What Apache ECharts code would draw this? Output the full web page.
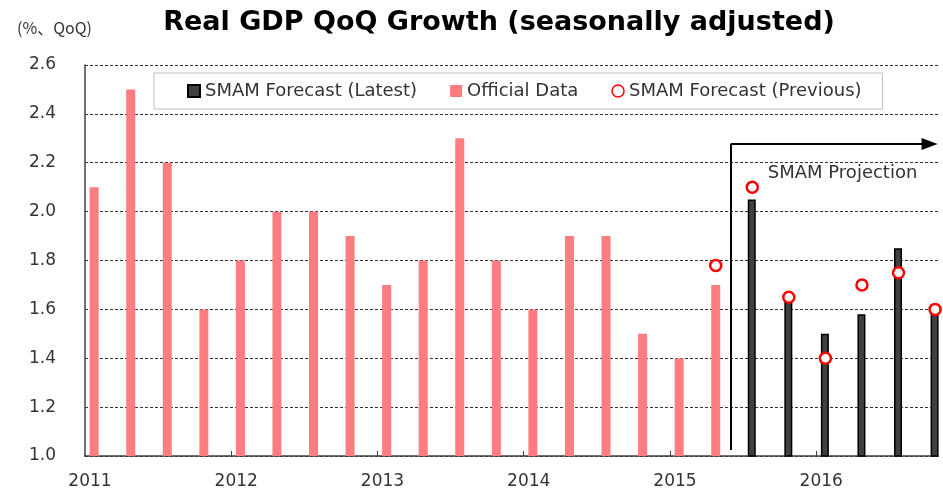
<!DOCTYPE html>
<html>
<head>
<meta charset="utf-8">
<script src="https://cdn.jsdelivr.net/npm/echarts@6/dist/echarts.min.js"></script>
<style>
  html, body { margin: 0; padding: 0; background: #fff; }
  #main { width: 943px; height: 496px; }
</style>
</head>
<body>
<div id="main"></div>
<script>
    // quarterly data, 2011Q1 .. 2016Q4
    var years = ['2011', '2012', '2013', '2014', '2015', '2016'];
    // official data 2011Q1 - 2015Q2
    var official = [2.1, 2.5, 2.2, 1.6, 1.8, 2.0, 2.0, 1.9, 1.7, 1.8, 2.3, 1.8, 1.6, 1.9, 1.9, 1.5, 1.4, 1.7];
    // SMAM forecast (latest) 2015Q3 - 2016Q4
    var latest = [2.05, 1.63, 1.5, 1.58, 1.85, 1.6];
    // SMAM forecast (previous) 2015Q2 - 2016Q4
    var previous = [1.78, 2.1, 1.65, 1.4, 1.7, 1.75, 1.6];

    var latestStart = 18;
    var previousStart = 17;
    var offset = 0.25; // bars sit a quarter of a slot after the tick

    function toPoints(values, start) {
        var pts = [];
        for (var i = 0; i < values.length; i++) {
            pts.push([start + i + offset, values[i]]);
        }
        return pts;
    }

    var chart = echarts.init(document.getElementById('main'));
    var font = 'DejaVu Sans';

    var option = {
        animation: false,
        title: [{
            text: 'Real GDP QoQ Growth (seasonally adjusted)',
            left: 494,
            textAlign: 'center',
            top: 4,
            textStyle: { fontFamily: font, fontWeight: 'bold', fontSize: 27, color: '#000' }
        }, {
            text: '(%、QoQ)',
            left: 12,
            top: 15,
            textStyle: { fontFamily: 'Noto Sans CJK JP', fontWeight: 'normal', fontSize: 16, color: '#333' }
        }],
        legend: {
            left: 154,
            top: 73,
            padding: [9, 21, 9, 33],
            borderColor: '#bfbfbf',
            borderWidth: 1,
            itemGap: 33,
            itemWidth: 12,
            itemHeight: 12,
            textStyle: { fontFamily: font, fontSize: 18, color: '#333' },
            data: [
                { name: 'SMAM Forecast (Latest)', icon: 'rect' },
                { name: 'Official Data', icon: 'rect' },
                { name: 'SMAM Forecast (Previous)', icon: 'circle', itemStyle: { borderWidth: 1.5 } }
            ]
        },
        grid: { left: 85, right: 5, top: 65, bottom: 40 },
        xAxis: {
            type: 'value',
            min: 0,
            max: 23.33,
            interval: 4,
            axisLine: { show: true, lineStyle: { color: '#404040', width: 1.5 } },
            axisTick: { show: true, inside: true, length: 5, customValues: [4, 8, 12, 16, 20], lineStyle: { color: '#404040' } },
            axisLabel: {
                customValues: [0, 4, 8, 12, 16, 20],
                formatter: function (v) { return years[Math.round(v / 4)]; },
                fontFamily: font, fontSize: 17, color: '#333', margin: 17,
                padding: [0, 0, 0, 10]
            },
            splitLine: { show: false }
        },
        yAxis: {
            type: 'value',
            min: 1.0,
            max: 2.6,
            interval: 0.2,
            axisLine: { show: true, lineStyle: { color: '#404040', width: 1.5 } },
            axisTick: { show: false },
            axisLabel: {
                formatter: function (v) { return v.toFixed(1); },
                fontFamily: font, fontSize: 17, color: '#333', margin: 29
            },
            splitLine: { show: true, lineStyle: { color: '#333', type: [3, 2], width: 1 } }
        },
        series: [{
            name: 'SMAM Forecast (Latest)',
            type: 'bar',
            barWidth: 8,
            barGap: '-100%',
            data: toPoints(latest, latestStart),
            itemStyle: { color: '#404040', borderColor: '#000', borderWidth: 1.5 },
            z: 3
        }, {
            name: 'Official Data',
            type: 'bar',
            barWidth: 9,
            barGap: '-100%',
            data: toPoints(official, 0),
            itemStyle: { color: '#FF7C80' },
            z: 2
        }, {
            name: 'SMAM Forecast (Previous)',
            type: 'scatter',
            symbol: 'circle',
            symbolSize: 11,
            data: toPoints(previous, previousStart),
            itemStyle: { color: '#fff', borderColor: '#FF0000', borderWidth: 2.5, opacity: 1 },
            z: 5,
            markLine: {
                silent: true,
                animation: false,
                label: { show: false },
                lineStyle: { color: '#000', width: 2, type: 'solid' },
                data: [
                    [{ coord: [17.66, 1.025], symbol: 'none' }, { coord: [17.66, 2.277], symbol: 'none' }],
                    [{ coord: [17.66, 2.277], symbol: 'none' }, { coord: [23.1, 2.277], symbol: 'triangle', symbolSize: [12, 16] }]
                ]
            },
            markPoint: {
                silent: true,
                symbol: 'rect',
                symbolSize: 0,
                label: { show: true, position: 'inside', fontFamily: font, fontSize: 18, color: '#333', formatter: '{b}' },
                data: [{ name: 'SMAM Projection', coord: [20.72, 2.158] }]
            }
        }]
    };

    chart.setOption(option);
</script>
</body>
</html>
